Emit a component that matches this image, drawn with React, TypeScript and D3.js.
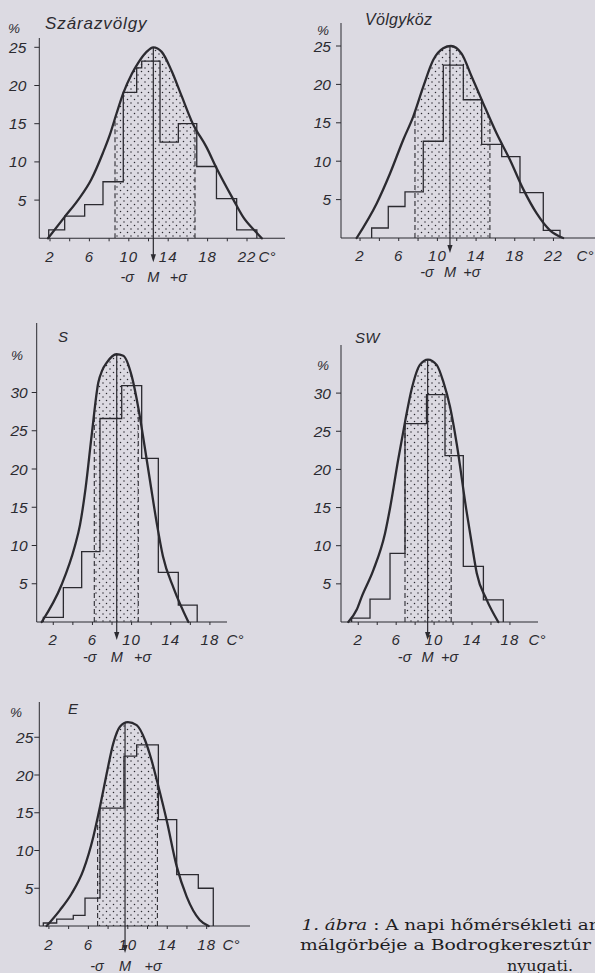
import React, { useEffect } from "react";
import * as d3 from "d3";

const WIDTH = 595;
const HEIGHT = 973;
const INK = "#2b2a30";
const PAPER = "#dcdae2";
const HAND = "'Liberation Sans', Arial, sans-serif";
const SERIF = "'DejaVu Serif', 'Liberation Serif', serif";

type Pt = [number, number];

// class limits (°C) and frequencies (%)
const szEdges = [1.87, 3.49, 5.52, 7.38, 9.44, 10.8, 11.31, 13.17, 15.03, 16.9, 18.9, 20.95, 23.0];
const szFreq = [1.1, 2.9, 4.4, 7.4, 19.1, 22.3, 23.2, 12.6, 15.0, 9.4, 5.2, 1.1];
const vkEdges = [3.2, 4.92, 6.65, 8.54, 10.61, 12.68, 14.58, 16.65, 18.54, 20.95, 22.68];
const vkFreq = [1.3, 4.1, 6.0, 12.6, 22.5, 18.0, 12.2, 10.6, 5.9, 1.0];
const sEdges = [0.99, 3.03, 4.9, 6.77, 8.99, 11.03, 12.73, 14.77, 16.7];
const sFreq = [0.6, 4.5, 9.2, 26.6, 30.9, 21.4, 6.5, 2.2];
const swEdges = [1.3, 3.24, 5.35, 6.93, 9.2, 11.15, 13.08, 15.2, 17.3];
const swFreq = [0.5, 3.0, 9.0, 26.0, 29.8, 21.8, 7.3, 2.9];
const eEdges = [1.43, 2.79, 4.47, 5.66, 7.18, 9.61, 10.9, 13.1, 14.96, 17.15, 18.67];
const eFreq = [0.4, 0.9, 1.4, 3.7, 15.6, 22.5, 24.0, 14.1, 6.8, 5.0];

// normal curves, points [°C, %]
const szCurve: Pt[] = [
  [1.8, 0], [3.49, 2.8], [4.84, 5], [6.19, 7.7], [7.38, 11.2], [8.09, 13.6], [8.77, 16.4],
  [9.44, 19], [10.3, 21.5], [10.97, 23], [11.8, 24.4], [12.49, 25], [13.34, 24.4], [14.35, 21.9],
  [15.37, 18.6], [16.5, 15], [17.9, 11.9], [18.9, 9.2], [20.6, 5.1], [21.6, 2.8], [23.0, 0.7], [23.5, 0],
];
const vkCurve: Pt[] = [
  [1.65, 0], [3.72, 4.5], [5.1, 8.4], [6.47, 12.8], [7.5, 15.8], [8.54, 19.7], [9.58, 23.2],
  [10.6, 24.7], [11.4, 25], [12.5, 24], [13.55, 21], [14.75, 17.5], [16.13, 13.6], [17.5, 10.2],
  [18.9, 6.3], [20.27, 3.2], [21.64, 1], [23.0, 0],
];
const sCurve: Pt[] = [
  [0.82, 0], [2.86, 4.9], [4.2, 9.9], [4.73, 12.7], [5.3, 17.5], [5.92, 24.4], [6.6, 31.3],
  [7.0, 32.9], [7.46, 33.9], [8.45, 35], [9.15, 34.8], [10.0, 32.2], [10.7, 27.9], [11.3, 23.2],
  [11.9, 18.3], [12.6, 12.7], [13.2, 8.6], [14.3, 4.4], [15.8, 0],
];
const swCurve: Pt[] = [
  [0.95, 0], [1.83, 1.6], [2.36, 3.3], [3.59, 6.8], [4.82, 11.6], [5.35, 14.9], [6.2, 21.2],
  [6.93, 26.2], [7.63, 30.5], [8.5, 33.7], [9.35, 34.4], [10.27, 33.7], [10.97, 31.5],
  [11.68, 28.2], [12.38, 23.4], [13.4, 14.7], [13.97, 10.3], [14.5, 6.4], [15.55, 2.9], [16.77, 0],
];
const eCurve: Pt[] = [
  [1.77, 0], [3.12, 2.1], [4.31, 4.3], [5.49, 7.4], [6.5, 11.8], [7.18, 15.8], [7.86, 20.2],
  [8.53, 24.2], [9.2, 26.4], [10.0, 27], [10.9, 26.6], [11.75, 24.6], [12.4, 22], [13.1, 18.5],
  [13.94, 14], [14.96, 7.9], [15.97, 3.9], [17.3, 0.8], [18.2, 0],
];

// -σ, M, +σ (°C)
const szSigma = [8.6, 12.49, 16.72];
const vkSigma = [7.68, 11.3, 15.43];
const sSigma = [6.19, 8.48, 10.68];
const swSigma = [6.93, 9.32, 11.8];
const eSigma = [6.94, 9.72, 13.0];

// tick labels
const xLabelsWide = [2, 6, 10, 14, 18, 22];
const xLabelsNarrow = [2, 6, 10, 14, 18];
const xMinorWide = [2, 4, 6, 8, 10, 12, 14, 16, 18, 20, 22];
const xMinorNarrow = [2, 4, 6, 8, 10, 12, 14, 16, 18];
const yLabels25 = [5, 10, 15, 20, 25];
const yLabels30 = [5, 10, 15, 20, 25, 30];
const sigmaLabels = ["-σ", "M", "+σ"];

// caption lines (cut at the page edge, as in the scan)
const captionLines = ["málgörbéje a Bodrogkeresztúr", "nyugati."];

interface Layout {
  x0: number; x20: number; axisL: number; axisR: number; axisY: number; y25: number; yTop: number;
  yGap: number; xLabDy: number; sigDy: number; arrowDy: number; sigOff: number[]; unitX: number;
  pct: [number, number]; title: [number, number, number];
}

const layouts: Record<string, Layout> = {
  sz: { x0: 30.3, x20: 227.3, axisL: 39.3, axisR: 285, axisY: 238.3, y25: 47.3, yTop: 38, yGap: 13,
    xLabDy: 24, sigDy: 44, arrowDy: 24, sigOff: [-26, 0, 25], unitX: 267, pct: [14, 33], title: [45, 29, 17] },
  vk: { x0: 340.7, x20: 534.1, axisL: 341, axisR: 595, axisY: 238, y25: 46, yTop: 23, yGap: 10,
    xLabDy: 23, sigDy: 39, arrowDy: 15, sigOff: [-23, 0, 22], unitX: 585, pct: [323, 35], title: [365, 25, 16] },
  s: { x0: 33.7, x20: 229.5, axisL: 36.7, axisR: 227, axisY: 622, y25: 430.75, yTop: 323, yGap: 9,
    xLabDy: 23, sigDy: 40, arrowDy: 18, sigOff: [-27, 0, 26], unitX: 235, pct: [17, 360], title: [58, 342, 15] },
  sw: { x0: 339.3, x20: 528.9, axisL: 341, axisR: 538, axisY: 622, y25: 431.25, yTop: 345, yGap: 10,
    xLabDy: 23, sigDy: 40, arrowDy: 18, sigOff: [-23, 0, 22], unitX: 537, pct: [323, 370], title: [355, 343, 15] },
  e: { x0: 29.2, x20: 226.4, axisL: 39.3, axisR: 250, axisY: 926, y25: 737.25, yTop: 702, yGap: 6,
    xLabDy: 24, sigDy: 45, arrowDy: 27, sigOff: [-28, 0, 28], unitX: 231, pct: [16, 717], title: [68, 714, 15] },
};

interface PanelProps {
  id: string; title: string; edges: number[]; freq: number[]; curve: Pt[]; sigma: number[];
  xLabels: number[]; xMinor: number[]; yLabels: number[];
}

function Panel({ id, title, edges, freq, curve, sigma, xLabels, xMinor, yLabels }: PanelProps) {
  const L = layouts[id];
  const x = d3.scaleLinear().domain([0, 20]).range([L.x0, L.x20]);
  const y = d3.scaleLinear().domain([0, 25]).range([L.axisY, L.y25]);

  // step outline of the histogram
  const steps: Pt[] = [[edges[0], 0]];
  freq.forEach((f, i) => steps.push([edges[i], f], [edges[i + 1], f]));
  steps.push([edges[edges.length - 1], 0]);
  const stepLine = d3.line<Pt>().x((d) => x(d[0])).y((d) => y(d[1]));

  const curveLine = d3.line<Pt>().x((d) => x(d[0])).y((d) => y(d[1])).curve(d3.curveMonotoneX);
  const area = d3.area<Pt>().x((d) => x(d[0])).y0(L.axisY).y1((d) => y(d[1])).curve(d3.curveMonotoneX);
  const areaPath = area(curve) || "";

  const [lo, m, hi] = sigma;
  const peak = d3.max(curve, (d) => d[1]) || 0;
  const xm = x(m);
  const tip = L.axisY + L.arrowDy;

  return (
    <g>
      <defs>
        <clipPath id={`band-${id}`}>
          <rect x={x(lo)} y={L.yTop - 20} width={x(hi) - x(lo)} height={L.axisY - L.yTop + 20} />
        </clipPath>
        <clipPath id={`under-${id}`}>
          <path d={areaPath} />
        </clipPath>
      </defs>

      {/* dotted band between -σ and +σ */}
      <path d={areaPath} fill="url(#dots)" clipPath={`url(#band-${id})`} />
      <g clipPath={`url(#under-${id})`} stroke={INK} strokeWidth={1.1} strokeDasharray="5 3">
        {[lo, hi].map((v) => (
          <line key={v} x1={x(v)} x2={x(v)} y1={L.axisY} y2={L.yTop - 20} />
        ))}
      </g>

      {/* axes */}
      <line x1={L.axisL} x2={L.axisL} y1={L.yTop} y2={L.axisY} stroke={INK} strokeWidth={1} />
      <line x1={L.axisL} x2={L.axisR} y1={L.axisY} y2={L.axisY} stroke={INK} strokeWidth={1.1} />
      {yLabels.map((v) => (
        <g key={v}>
          <line x1={L.axisL - 5} x2={L.axisL} y1={y(v)} y2={y(v)} stroke={INK} strokeWidth={1} />
          <text x={L.axisL - L.yGap} y={y(v)} dy="0.36em" textAnchor="end" fontSize={15.5}
            fontStyle="italic" fontFamily={HAND} fill={INK}>{v}</text>
        </g>
      ))}
      {xMinor.map((v) => (
        <line key={v} x1={x(v)} x2={x(v)} y1={L.axisY} y2={L.axisY + 3} stroke={INK} strokeWidth={1} />
      ))}
      {xLabels.map((v) => (
        <text key={v} x={x(v)} y={L.axisY + L.xLabDy} textAnchor="middle" fontSize={15}
          fontStyle="italic" fontFamily={HAND} fill={INK} letterSpacing={1}>{v}</text>
      ))}
      <text x={L.unitX} y={L.axisY + L.xLabDy} textAnchor="middle" fontSize={15}
        fontStyle="italic" fontFamily={HAND} fill={INK}>C°</text>
      <text x={L.pct[0]} y={L.pct[1]} textAnchor="middle" fontSize={13.5}
        fontStyle="italic" fontFamily={HAND} fill={INK}>%</text>
      <text x={L.title[0]} y={L.title[1]} fontSize={L.title[2]} fontStyle="italic" fontFamily={HAND}
        fill={INK} letterSpacing={id === "sz" ? 0.9 : 0.3}>{title}</text>

      {/* histogram and curve */}
      <path d={stepLine(steps) || ""} fill="none" stroke={INK} strokeWidth={1.3} strokeLinejoin="miter" />
      <path d={curveLine(curve) || ""} fill="none" stroke={INK} strokeWidth={2.3} strokeLinecap="round" />

      {/* mean with arrow */}
      <line x1={xm} x2={xm} y1={y(peak)} y2={tip - 4} stroke={INK} strokeWidth={1.2} />
      <path d={`M${xm - 2.6},${tip - 8} L${xm + 2.6},${tip - 8} L${xm},${tip} Z`} fill={INK} />
      {sigmaLabels.map((s, i) => (
        <text key={s} x={xm + L.sigOff[i]} y={L.axisY + L.sigDy} textAnchor="middle" fontSize={14.5}
          fontStyle="italic" fontFamily={HAND} fill={INK}>{s}</text>
      ))}
    </g>
  );
}

export default function App() {
  useEffect(() => {
    document.body.style.margin = "0";
    document.body.style.background = PAPER;
  }, []);

  return (
    <div style={{ position: "absolute", left: 0, top: 0 }}>
      <svg width={WIDTH} height={HEIGHT} viewBox={`0 0 ${WIDTH} ${HEIGHT}`} style={{ display: "block" }}>
        <defs>
          <pattern id="dots" width={7} height={7} patternUnits="userSpaceOnUse">
            <circle cx={1.5} cy={1.5} r={0.75} fill={INK} />
            <circle cx={5} cy={5} r={0.75} fill={INK} />
          </pattern>
        </defs>
        <rect width={WIDTH} height={HEIGHT} fill={PAPER} />

        <Panel id="sz" title="Szárazvölgy" edges={szEdges} freq={szFreq} curve={szCurve} sigma={szSigma}
          xLabels={xLabelsWide} xMinor={xMinorWide} yLabels={yLabels25} />
        <Panel id="vk" title="Völgyköz" edges={vkEdges} freq={vkFreq} curve={vkCurve} sigma={vkSigma}
          xLabels={xLabelsWide} xMinor={xMinorWide} yLabels={yLabels25} />
        <Panel id="s" title="S" edges={sEdges} freq={sFreq} curve={sCurve} sigma={sSigma}
          xLabels={xLabelsNarrow} xMinor={xMinorNarrow} yLabels={yLabels30} />
        <Panel id="sw" title="SW" edges={swEdges} freq={swFreq} curve={swCurve} sigma={swSigma}
          xLabels={xLabelsNarrow} xMinor={xMinorNarrow} yLabels={yLabels30} />
        <Panel id="e" title="E" edges={eEdges} freq={eFreq} curve={eCurve} sigma={eSigma}
          xLabels={xLabelsNarrow} xMinor={xMinorNarrow} yLabels={yLabels25} />

        <g fontFamily={SERIF} fontSize={15} fill="#1e1d22">
          <text x={301.5} y={930} textLength={296} lengthAdjust="spacingAndGlyphs">
            <tspan fontStyle="italic">1. ábra</tspan> : A napi hőmérsékleti ar
          </text>
          <text x={300} y={950} textLength={291} lengthAdjust="spacingAndGlyphs">{captionLines[0]}</text>
          <text x={507} y={971} textLength={66} lengthAdjust="spacingAndGlyphs">{captionLines[1]}</text>
        </g>
      </svg>
    </div>
  );
}
